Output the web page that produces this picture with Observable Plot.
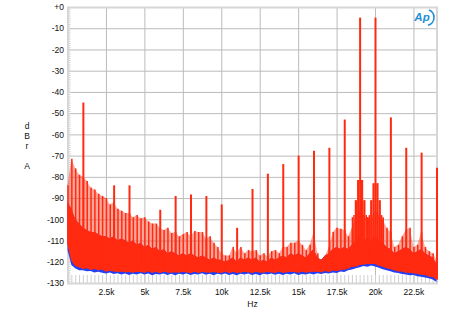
<!DOCTYPE html>
<html>
<head>
<meta charset="utf-8">
<script src="https://cdn.jsdelivr.net/npm/d3@7"></script>
<script src="https://cdn.jsdelivr.net/npm/@observablehq/plot@0.6"></script>
<style>
  html, body { margin: 0; padding: 0; background: #fff; }
  #chart { width: 450px; height: 316px; }
</style>
</head>
<body>
<div id="chart"></div>
<script>
// Frequency grid (Hz) of the sampled spectrum envelope: 0 .. 24000 every 250 Hz (97 points)
const gridHz = d3.range(0, 24001, 250);

// Blue trace noise floor (lower edge, dBr)
const blueFloor = [
  -114.5, -121.5, -123.0, -124.0, -124.0, -124.5, -124.3, -125.0, -124.7, -125.2,
  -125.5, -125.0, -125.8, -125.4, -126.0, -125.5, -126.2, -125.6, -126.0, -125.4,
  -126.0, -125.5, -126.3, -125.8, -126.0, -125.5, -126.2, -125.7, -126.3, -125.6,
  -126.0, -125.5, -126.2, -125.8, -126.0, -125.4, -126.1, -125.7, -126.3, -125.6,
  -126.0, -125.5, -126.2, -125.8, -126.4, -125.7, -126.0, -125.5, -126.2, -125.8,
  -126.3, -125.6, -126.0, -125.5, -126.1, -125.7, -126.2, -125.6, -126.0, -125.4,
  -126.2, -125.8, -126.0, -125.5, -126.0, -125.4, -125.8, -125.3, -125.5, -125.0,
  -125.3, -124.6, -124.8, -124.0, -123.6, -123.0, -122.6, -122.0, -122.4, -121.8,
  -122.2, -122.8, -123.5, -124.0, -124.5, -125.0, -125.3, -125.8, -126.0, -126.3,
  -126.2, -126.8, -127.0, -127.4, -127.8, -128.4, -129.5
];

// Red trace noise floor (lower edge, dBr)
const redFloor = [
  -112.0, -119.5, -122.0, -122.6, -123.3, -123.0, -123.7, -123.4, -124.0, -123.6,
  -124.6, -124.2, -124.5, -124.8, -124.6, -124.9, -124.8, -125.0, -124.7, -124.8,
  -125.1, -124.5, -125.2, -124.7, -125.3, -124.6, -125.0, -125.1, -124.9, -125.0,
  -124.8, -124.9, -125.3, -124.7, -125.2, -124.8, -124.9, -125.1, -124.8, -125.0,
  -125.2, -124.6, -125.3, -124.8, -125.1, -125.0, -124.7, -124.9, -125.2, -124.7,
  -125.1, -125.0, -124.8, -124.9, -125.2, -124.6, -125.1, -124.9, -124.7, -124.8,
  -125.0, -124.6, -125.1, -124.8, -124.6, -124.7, -124.9, -124.4, -124.7, -124.1,
  -124.3, -123.9, -123.6, -123.2, -122.4, -122.1, -121.4, -121.2, -121.1, -120.9,
  -121.0, -121.7, -122.2, -123.1, -123.4, -124.0, -124.5, -124.6, -125.1, -125.2,
  -125.4, -125.6, -126.1, -126.2, -126.9, -127.2, -128.3
];

// Top of the dense (solid) red region (dBr)
const redSolidTop = [
  -92, -95, -100, -102, -104, -105, -106, -106, -107, -108,
  -108, -109, -108, -110, -109, -110, -111, -110, -112, -111,
  -113, -112, -114, -113, -115, -114, -116, -115, -116, -117,
  -116, -117, -116, -117, -118, -117, -118, -119, -118, -119,
  -119, -120, -119, -118, -120, -118, -119, -118, -119, -118,
  -120, -119, -120, -118, -119, -118, -117, -118, -116, -117,
  -116, -117, -118, -116, -114, -118, -119, -117, -116, -114,
  -113, -114, -113, -114, -112, -110, -108, -110, -109, -110,
  -108, -110, -111, -113, -114, -116, -115, -114, -113, -114,
  -116, -115, -114, -116, -117, -118, -121
];

// Tops of the dense comb of red spectral lines (dBr)
const combTop = [
  -84.0, -71.5, -76.0, -79.0, -80.0, -82.0, -85.0, -86.0, -88.0, -89.0,
  -90.0, -93.0, -92.0, -95.0, -96.0, -97.0, -97.0, -99.0, -98.0, -99.5,
  -99.0, -101.0, -102.0, -102.0, -104.0, -105.0, -104.0, -106.5, -106.0, -108.0,
  -107.0, -106.0, -108.0, -105.5, -106.0, -106.0, -109.0, -108.0, -111.0, -113.0,
  -116.0, -117.0, -117.0, -113.0, -116.0, -113.0, -116.0, -114.5, -115.0, -114.5,
  -117.0, -116.0, -117.5, -115.0, -114.5, -116.0, -113.0, -113.0, -111.0, -111.0,
  -110.0, -112.0, -114.5, -112.0, -106.0, -116.0, -122.0, -117.0, -113.0, -106.0,
  -104.0, -104.5, -105.0, -108.0, -104.0, -98.0, -96.0, -98.0, -100.0, -99.0,
  -96.0, -98.0, -100.0, -104.0, -106.0, -113.0, -112.0, -108.0, -105.0, -104.0,
  -113.0, -112.0, -106.0, -113.0, -115.0, -116.0, -119.0
];

// Discrete tones and IMD products
const spikeHz  = [1000, 3000, 4000, 6000, 7000, 8000, 9000, 10000, 11000, 12000, 13000, 14000, 15000, 16000, 17000, 18000, 19000, 20000, 21000, 22000, 23000, 24000];
const spikeDb  = [-45, -84, -84, -95.5, -89, -88.3, -89, -93, -104, -85.7, -78.5, -74, -70, -67.7, -66.3, -53, -5, -5, -52, -66.3, -68.6, -75.7];

// Sidebands around the 19 kHz and 20 kHz tones
const sideHz = [18500, 18600, 18700, 18750, 18850, 18900, 19100, 19150, 19250, 19300, 19400, 19500,
                19500, 19600, 19700, 19750, 19850, 19900, 20100, 20150, 20250, 20300, 20400, 20500];
const sideDb = [-99, -98, -91, -91, -81.5, -81.5, -81.5, -81.5, -91, -91, -98, -99,
                -99, -98, -91, -91, -83, -83, -83, -83, -91, -91, -98, -99];

// Axis ticks
const xTicks = [2500, 5000, 7500, 10000, 12500, 15000, 17500, 20000, 22500];
const xTickLabels = ["2.5k", "5k", "7.5k", "10k", "12.5k", "15k", "17.5k", "20k", "22.5k"];
const yTicks = [0, -10, -20, -30, -40, -50, -60, -70, -80, -90, -100, -110, -120, -130];
const yTickLabels = ["+0", "-10", "-20", "-30", "-40", "-50", "-60", "-70", "-80", "-90", "-100", "-110", "-120", "-130"];
const xMinor = d3.range(250, 24000, 250);
const yMinor = d3.range(-130, 1, 1);

const RED = "#ff2a10";
const BLUE = "#2440f2";
const LOGO = "#1e8fd6";
const FONT = "Liberation Sans, Arial, sans-serif";

const rows = gridHz.map((f, i) => ({f, blue: blueFloor[i], red: redFloor[i], solid: redSolidTop[i], comb: combTop[i]}));
const floorAt = f => redFloor[Math.min(redFloor.length - 1, Math.round(f / 250))];
const spikes = spikeHz.map((f, i) => ({f, top: spikeDb[i], base: floorAt(f)}));
const sides = sideHz.map((f, i) => ({f, top: sideDb[i], base: floorAt(f)}));

const chart = Plot.plot({
  width: 450,
  height: 316,
  marginLeft: 67.5,
  marginRight: 13.5,
  marginTop: 7,
  marginBottom: 33,
  style: {fontFamily: FONT, fontSize: "8.5px", color: "#111", background: "#fff"},
  x: {domain: [0, 24000], label: null},
  y: {domain: [-130, 0], label: null},
  marks: [
    Plot.gridX({ticks: xTicks, stroke: "#bcbcbc", strokeOpacity: 1}),
    Plot.gridY({ticks: yTicks, stroke: "#bcbcbc", strokeOpacity: 1}),
    Plot.axisX({ticks: xMinor, tickSize: -8, text: null, stroke: "#cfcfcf", strokeOpacity: 1}),
    Plot.axisY({ticks: yMinor, tickSize: -3, text: null, stroke: "#cfcfcf", strokeOpacity: 1}),
    Plot.frame({stroke: "#d6d6d6", strokeWidth: 2}),
    Plot.areaY(rows, {x: "f", y1: "blue", y2: "solid", fill: BLUE}),
    Plot.areaY(rows, {x: "f", y1: "red", y2: "comb", fill: RED, fillOpacity: 0.42}),
    Plot.areaY(rows, {x: "f", y1: "red", y2: "solid", fill: RED}),
    Plot.ruleX(rows, {x: "f", y1: "red", y2: "comb", stroke: RED, strokeWidth: 1.5}),
    Plot.ruleX(sides, {x: "f", y1: "base", y2: "top", stroke: RED, strokeWidth: 1.5}),
    Plot.ruleX(spikes, {x: "f", y1: "base", y2: "top", stroke: RED, strokeWidth: 2}),
    Plot.axisY({ticks: yTicks, tickSize: 0, tickPadding: 4, tickFormat: d => yTickLabels[yTicks.indexOf(d)], fill: "#111", fontSize: 8.5, label: null}),
    Plot.axisX({ticks: xTicks, tickSize: 0, tickPadding: 5, tickFormat: d => xTickLabels[xTicks.indexOf(d)], fill: "#111", fontSize: 8.5, label: null}),
    Plot.text(["Hz"], {frameAnchor: "bottom", dy: 20.5, fontSize: 8.5, fill: "#111", lineAnchor: "middle"}),
    Plot.text(["d\nB\nr\n\nA"], {frameAnchor: "left", dx: -41, fontSize: 8.5, fill: "#111", lineHeight: 1.18, textAnchor: "middle"}),
    Plot.dot([0], {frameAnchor: "top-right", dx: -11, dy: 10, r: 8, stroke: LOGO, strokeWidth: 1.6, fill: "none", strokeDasharray: "10.5 30 9.8"}),
    Plot.text(["Ap"], {frameAnchor: "top-right", dx: -15, dy: 10, fontSize: 11.5, fontWeight: "bold", fontStyle: "italic", fill: LOGO, textAnchor: "middle", lineAnchor: "middle"})
  ]
});
document.getElementById("chart").appendChild(chart);
</script>
</body>
</html>
